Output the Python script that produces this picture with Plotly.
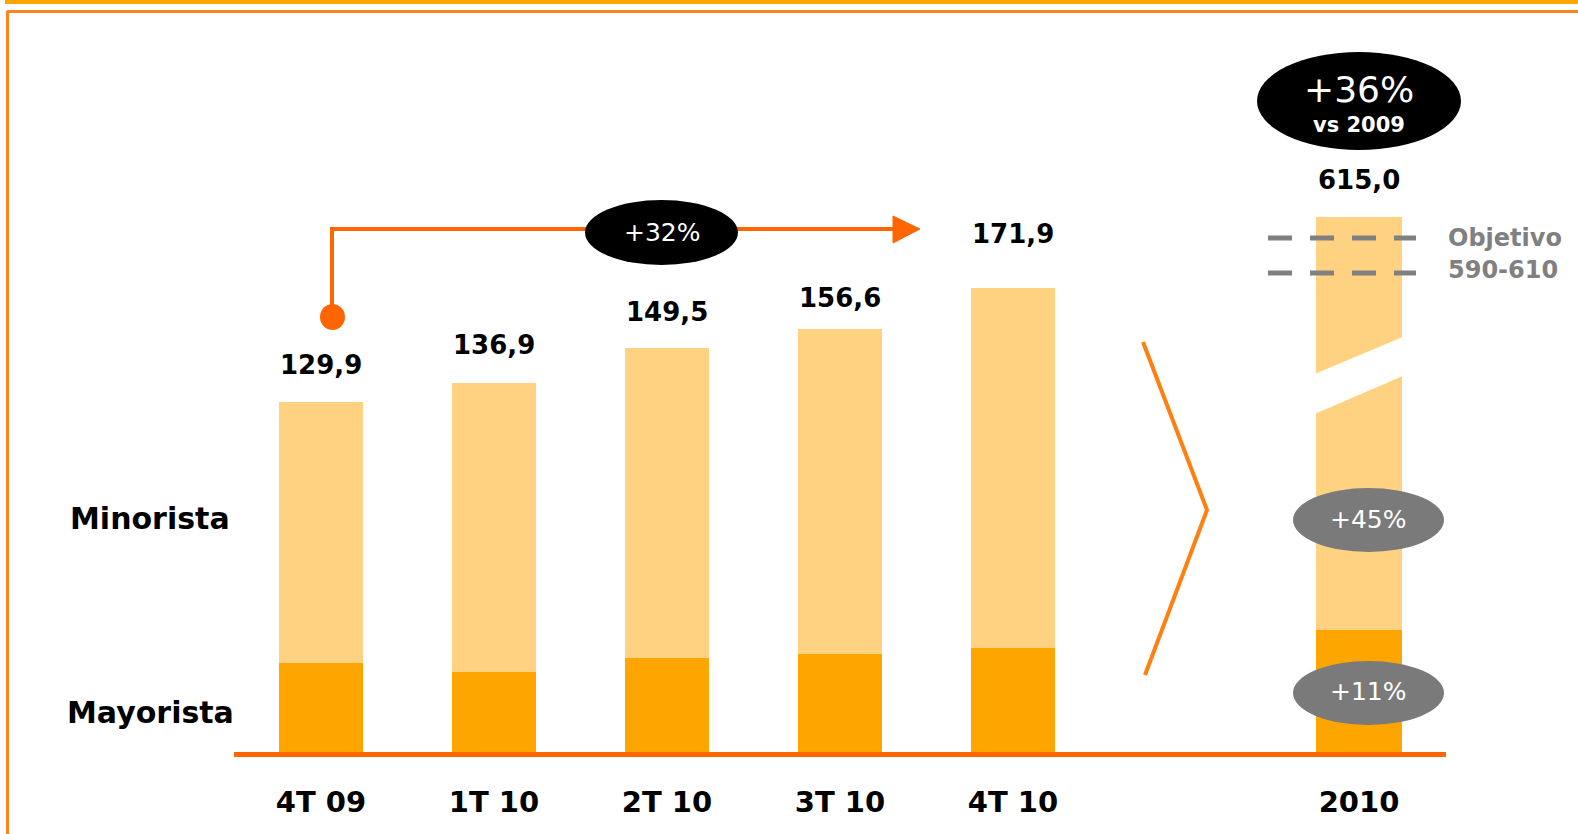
import plotly.graph_objects as go

# ---------------- data ----------------
categories = ["4T 09", "1T 10", "2T 10", "3T 10", "4T 10"]
totals = [129.9, 136.9, 149.5, 156.6, 171.9]
mayorista = [33.5, 30.2, 35.4, 36.9, 39.1]
year_label = ["2010"]
year_total = [615.0]
year_mayorista = [141.6]
value_labels = ["129,9", "136,9", "149,5", "156,6", "171,9"]
year_value_label = ["615,0"]
growth_quarter = "+32%"
growth_year = "+36%"
growth_year_sub = "vs 2009"
growth_minorista = "+45%"
growth_mayorista = "+11%"
target_text = ["Objetivo", "590-610"]
series_names = ["Mayorista", "Minorista"]

minorista = [t - m for t, m in zip(totals, mayorista)]
year_minorista = [t - m for t, m in zip(year_total, year_mayorista)]

# ---------------- style ----------------
W, H = 1578, 834
T, B = 20, 754
C_LIGHT = "#FED280"
C_DARK = "#FFA500"
C_ORANGE = "#FF6600"
C_FRAME = "#FF8420"
C_GRAY = "#7A7A7A"
FONT = "DejaVu Sans"
x_q = [0, 1, 2, 3, 4]
x_y = [6]
label_shift = [37, 38, 36, 31, 54]


def fx(px):
    return px / W


def fy(py):
    return (B - py) / (B - T)


fig = go.Figure()
fig.add_trace(go.Bar(x=x_q, y=mayorista, name=series_names[0], marker_color=C_DARK,
                     width=0.49, marker_line_width=0))
fig.add_trace(go.Bar(x=x_q, y=minorista, name=series_names[1], marker_color=C_LIGHT,
                     width=0.49, marker_line_width=0))
fig.add_trace(go.Bar(x=x_y, y=year_mayorista, name=series_names[0], marker_color=C_DARK,
                     width=0.5, marker_line_width=0, yaxis="y2"))
fig.add_trace(go.Bar(x=x_y, y=year_minorista, name=series_names[1], marker_color=C_LIGHT,
                     width=0.5, marker_line_width=0, yaxis="y2"))


def txt(px, py, text, size, color, anchor="center"):
    return dict(x=fx(px), y=fy(py), xref="paper", yref="paper", text=text,
                showarrow=False, xanchor=anchor, yanchor="middle",
                font=dict(family=FONT, size=size, color=color))


annotations = []
for xi, t, lab, s in zip(x_q, totals, value_labels, label_shift):
    annotations.append(dict(x=xi, y=t, xref="x", yref="y", text=f"<b>{lab}</b>",
                            showarrow=False, xanchor="center", yanchor="middle", yshift=s,
                            font=dict(family=FONT, size=26, color="black")))
for xi, t, lab in zip(x_y, year_total, year_value_label):
    annotations.append(dict(x=xi, y=t, xref="x", yref="y2", text=f"<b>{lab}</b>",
                            showarrow=False, xanchor="center", yanchor="middle", yshift=37,
                            font=dict(family=FONT, size=26, color="black")))

# side labels
annotations.append(txt(150, 518, f"<b>{series_names[1]}</b>", 30, "black"))
annotations.append(txt(150, 712, f"<b>{series_names[0]}</b>", 30, "black"))

shapes = []
# frame
shapes.append(dict(type="rect", xref="paper", yref="paper", x0=fx(5), x1=fx(W + 5),
                   y0=fy(4), y1=fy(-2), fillcolor=C_DARK, line_width=0, layer="above"))
shapes.append(dict(type="line", xref="paper", yref="paper", x0=fx(7), x1=fx(W + 5),
                   y0=fy(11.5), y1=fy(11.5), line=dict(color=C_FRAME, width=3)))
shapes.append(dict(type="line", xref="paper", yref="paper", x0=fx(7.5), x1=fx(7.5),
                   y0=fy(11), y1=fy(H + 5), line=dict(color=C_FRAME, width=3)))
# baseline
shapes.append(dict(type="line", xref="paper", yref="paper", x0=fx(234), x1=fx(1446),
                   y0=fy(754.5), y1=fy(754.5), layer="above",
                   line=dict(color=C_ORANGE, width=5)))
# growth arrow
shapes.append(dict(type="path", xref="paper", yref="paper",
                   path=f"M {fx(332)},{fy(317)} L {fx(332)},{fy(229)} L {fx(896)},{fy(229)}",
                   line=dict(color=C_ORANGE, width=4)))
shapes.append(dict(type="path", xref="paper", yref="paper",
                   path=f"M {fx(893)},{fy(216)} L {fx(920)},{fy(229)} L {fx(893)},{fy(243)} Z",
                   fillcolor=C_ORANGE, line=dict(color=C_ORANGE, width=1)))
shapes.append(dict(type="circle", xref="paper", yref="paper", x0=fx(320), x1=fx(345),
                   y0=fy(330), y1=fy(304), fillcolor=C_ORANGE, line_width=0))
# +32% ellipse
shapes.append(dict(type="circle", xref="paper", yref="paper", x0=fx(585), x1=fx(738),
                   y0=fy(265), y1=fy(200), fillcolor="black", line_width=0, layer="above"))
# +36% ellipse
shapes.append(dict(type="circle", xref="paper", yref="paper", x0=fx(1257), x1=fx(1461),
                   y0=fy(150), y1=fy(52), fillcolor="black", line_width=0, layer="above"))
# gray ellipses
for cy in (520, 693):
    shapes.append(dict(type="circle", xref="paper", yref="paper", x0=fx(1293), x1=fx(1444),
                       y0=fy(cy + 32), y1=fy(cy - 32), fillcolor=C_GRAY, line_width=0,
                       layer="above"))
# chevron
shapes.append(dict(type="path", xref="paper", yref="paper",
                   path=f"M {fx(1143)},{fy(342)} L {fx(1207)},{fy(510)} L {fx(1145)},{fy(675)}",
                   line=dict(color="#FF7F10", width=4)))
# axis break on 2010 bar
shapes.append(dict(type="path", xref="paper", yref="paper",
                   path=(f"M {fx(1310)},{fy(376)} L {fx(1412)},{fy(333)} "
                         f"L {fx(1412)},{fy(372)} L {fx(1310)},{fy(416)} Z"),
                   fillcolor="white", line_width=0, layer="above"))
# target dashed lines
for yy in (238, 273):
    shapes.append(dict(type="line", xref="paper", yref="paper", x0=fx(1268), x1=fx(1416),
                       y0=fy(yy), y1=fy(yy), layer="above",
                       line=dict(color="#808080", width=5, dash="24px,18px")))

# ellipse texts
annotations.append(txt(662, 232, growth_quarter, 25, "white"))
annotations.append(txt(1359, 89, growth_year, 36, "white"))
annotations.append(txt(1359, 125, f"<b>{growth_year_sub}</b>", 21, "white"))
annotations.append(txt(1368, 519, growth_minorista, 25, "white"))
annotations.append(txt(1368, 691, growth_mayorista, 25, "white"))
annotations.append(txt(1446, 238, f"<b>{target_text[0]}</b>", 24, "#808080", "left"))
annotations.append(txt(1446, 270, f"<b>{target_text[1]}</b>", 24, "#808080", "left"))

fig.update_layout(
    width=W, height=H,
    margin=dict(l=0, r=0, t=T, b=H - B, pad=0),
    barmode="stack",
    showlegend=False,
    hovermode=False,
    plot_bgcolor="white", paper_bgcolor="white",
    xaxis=dict(range=[-321 / 173, (W - 321) / 173], tickvals=x_q + x_y,
               ticktext=[f"<b>{c}</b>" for c in categories + year_label],
               tickfont=dict(family=FONT, size=29, color="black"),
               ticks="outside", ticklen=22, tickcolor="rgba(0,0,0,0)",
               showgrid=False, zeroline=False, showline=False),
    yaxis=dict(range=[0, (B - T) / 2.713], visible=False, showgrid=False, zeroline=False),
    yaxis2=dict(range=[0, (B - T) / 0.8732], overlaying="y", visible=False,
                showgrid=False, zeroline=False),
    shapes=shapes,
    annotations=annotations,
)

fig.write_html("out.html", config={"displayModeBar": False},
               post_script="document.body.style.margin='0';document.body.style.overflow='hidden';")
